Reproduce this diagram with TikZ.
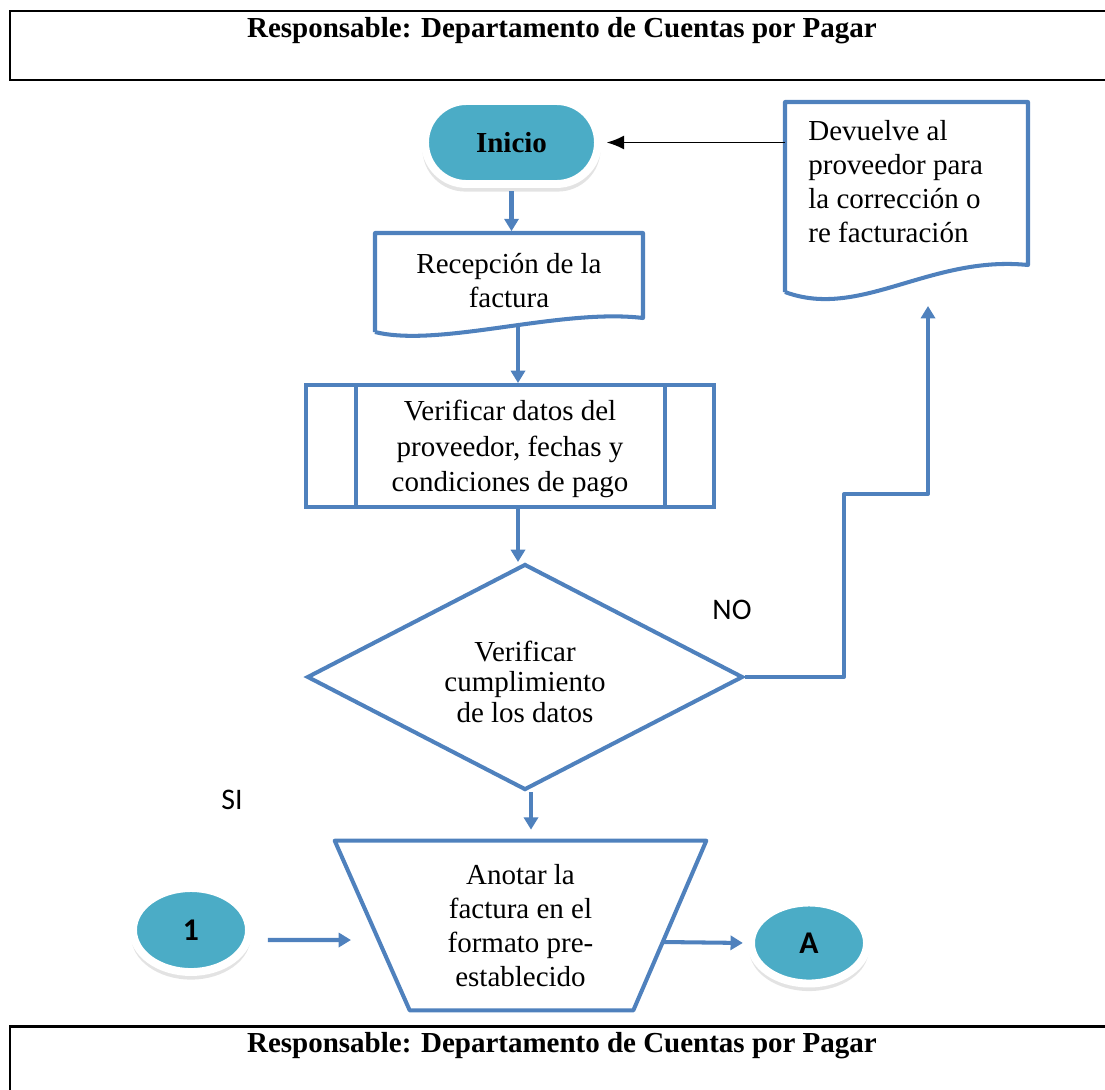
\documentclass[tikz,border=0pt]{standalone}
\usepackage{fontspec}
\setmainfont{Liberation Serif}
\newfontfamily\calibfont{Carlito}
\usepackage{tikz}
\usetikzlibrary{shapes.geometric, shapes.misc, shadows, arrows.meta}

\definecolor{flowblue}{HTML}{4F81BD}
\definecolor{termfill}{HTML}{4BACC6}

\tikzset{
  flow/.style={draw=flowblue, line width=2.3pt},
  flowarrow/.style={flow, -{Triangle[width=8pt,length=7pt]}},
  term/.style={fill=termfill, draw=white, line width=4.5pt, inner sep=0pt,
    drop shadow={shadow xshift=0pt, shadow yshift=-3.5pt, shadow scale=1.03, opacity=0.22}},
  txt/.style={font=\fontsize{16.5}{19.4}\selectfont, align=center},
  label/.style={font=\calibfont\fontsize{17}{20}\selectfont},
  frame/.style={draw=black, line width=1.7pt},
}

\begin{document}
\begin{tikzpicture}[x=0.02cm, y=-0.02cm]
  \useasboundingbox (0,0) rectangle (1105,1089);

  % headers
  \draw[frame] (1110,11) -- (10,11) -- (10,80) -- (1110,80);
  \node[txt, font=\fontsize{16.5}{19.4}\selectfont\bfseries] (hdrtop) at (562,31) {Responsable: Departamento de Cuentas por Pagar};
  \draw[frame] (1110,1026) -- (10,1026) -- (10,1095);
  \node[txt, font=\fontsize{16.5}{19.4}\selectfont\bfseries] (hdrbot) at (562,1046) {Responsable: Departamento de Cuentas por Pagar};

  % nodes
  \node[term, rounded rectangle, minimum width=3.46cm, minimum height=1.66cm, font=\fontsize{16.5}{19.4}\selectfont\bfseries] (inicio) at (511.5,142.5) {Inicio};
  \node[txt, minimum width=5.36cm, minimum height=1.98cm] (recep) at (509,281) {Recepción de la\\factura};
  \node[txt, flow, rectangle, minimum width=8.16cm, minimum height=2.44cm, inner sep=0pt, font=\fontsize{16.5}{20.2}\selectfont] (proc) at (510,446) {\rule{0pt}{15pt}Verificar datos del\\proveedor, fechas y\\condiciones de pago};
  \node[txt, flow, diamond, shape aspect=1.93, minimum width=8.72cm, minimum height=4.52cm, inner sep=0pt, font=\fontsize{16.5}{17.2}\selectfont] (dec) at (525,677) {\rule{0pt}{17pt}Verificar\\cumplimiento\\de los datos};
  \node[txt, minimum width=7.42cm, minimum height=3.38cm, inner sep=0pt] (anot) at (520.5,925.5) {Anotar la\\factura en el\\formato pre-\\establecido};
  \node[txt, align=left, anchor=north west, inner xsep=0.46cm, inner ysep=0.36cm] (dev) at (785,102) {Devuelve al\\proveedor para\\la corrección o\\re facturación};
  \node[term, ellipse, minimum width=2.32cm, minimum height=1.68cm, font=\calibfont\fontsize{18}{20}\selectfont\bfseries] (one) at (191,930) {1};
  \node[term, ellipse, minimum width=2.32cm, minimum height=1.62cm, font=\calibfont\fontsize{18}{20}\selectfont\bfseries] (fin) at (809,943) {A};
  \node[label] (no) at (732,610) {NO};
  \node[label] (si) at (232,800) {SI};

  % shapes drawn around the text
  \draw[flow, line join=round] (375,332) -- (375,233) -- (643,233) -- (643,318)
    .. controls (560,308) and (440,348) .. (375,332);
  \draw[flow, line join=round] (785,292) -- (785,102) -- (1028,102) -- (1028,265)
    .. controls (930,255) and (860,320) .. (785,292);
  \draw[flow] ([xshift=1.04cm]proc.north west) -- ([xshift=1.04cm]proc.south west);
  \draw[flow] ([xshift=-1.02cm]proc.north east) -- ([xshift=-1.02cm]proc.south east);
  \draw[flow, line join=round] (anot.north west) -- (anot.north east)
    -- ([xshift=-1.46cm]anot.south east) -- ([xshift=1.5cm]anot.south west) -- cycle;

  % connectors
  \coordinate (recepout) at (518,326);
  \coordinate (devin) at (928,306);
  \coordinate (anotin) at (351,940);
  \coordinate (anotout) at (663,942);
  \draw[flowarrow, shorten <=2pt] (inicio.south) -- (inicio.south |- recep.north);
  \draw[flowarrow] (recepout) -- (recepout |- proc.north);
  \draw[flowarrow] (proc.south -| recepout) -- (recepout |- dec.north);
  \draw[flowarrow, shorten >=0.22cm] ([xshift=0.12cm]dec.south) -- ([xshift=0.12cm]dec.south |- anot.north);
  \draw[flowarrow, line join=round] (dec.east) -- ++(99,0) |- (928,494) -- (devin);
  \draw[flowarrow] ([xshift=0.3cm, yshift=-0.2cm]one.east) -- (anotin);
  \draw[flowarrow, shorten >=2.4pt] (anotout) -- (fin.west);
  \draw[-{Latex[length=10pt,width=8pt]}, line width=1.1pt, shorten >=2.6pt] (dev.west |- inicio.east) -- (inicio.east);
\end{tikzpicture}
\end{document}
